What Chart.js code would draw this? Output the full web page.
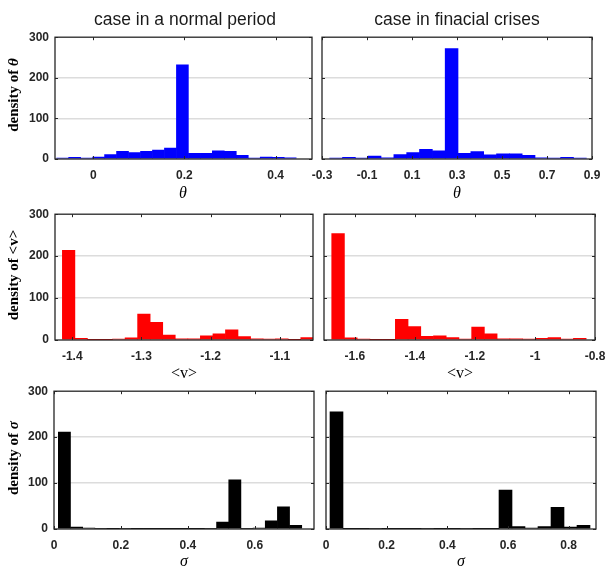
<!DOCTYPE html>
<html>
<head>
<meta charset="utf-8">
<script src="https://cdn.jsdelivr.net/npm/chart.js@4.4.0/dist/chart.umd.min.js"></script>
<style>
  body { margin: 0; background: #fff; }
  #fig { position: relative; width: 607px; height: 568px; overflow: hidden; background: #fff; }
  #fig canvas { position: absolute; }
  .t { position: absolute; white-space: nowrap; line-height: 1; color: #000; }
  .title { font: 17.5px "Liberation Sans", Arial, sans-serif; color: #1a1a1a; transform: translateX(-50%); }
  .xl { font: italic 16px "Liberation Serif", "Times New Roman", serif; transform: translateX(-50%); }
  .xl.up { font-style: normal; }
  .yl { font: bold 15px "Liberation Serif", "Times New Roman", serif; transform: translate(-50%, -50%) rotate(-90deg); }
</style>
</head>
<body>
<div id="fig">
  <canvas id="c1"></canvas><canvas id="c2"></canvas>
  <canvas id="c3"></canvas><canvas id="c4"></canvas>
  <canvas id="c5"></canvas><canvas id="c6"></canvas>

  <div class="t title" style="left:185px; top:9px">case in a normal period</div>
  <div class="t title" style="left:457px; top:9px">case in finacial crises</div>

  <div class="t yl" style="left:13px; top:95px">density of <i>θ</i></div>
  <div class="t yl" style="left:13px; top:275px">density of &lt;v&gt;</div>
  <div class="t yl" style="left:13px; top:458px">density of <i>σ</i></div>

  <div class="t xl" style="left:183px; top:184px">θ</div>
  <div class="t xl" style="left:457px; top:184px">θ</div>
  <div class="t xl up" style="left:184px; top:364px">&lt;v&gt;</div>
  <div class="t xl up" style="left:460px; top:364px">&lt;v&gt;</div>
  <div class="t xl" style="left:184px; top:552px">σ</div>
  <div class="t xl" style="left:461px; top:552px">σ</div>
</div>

<script>
// bin centres and densities

// theta, normal period
const thetaNormalBins = [-0.0672, -0.0409, -0.0146, 0.0117, 0.0379, 0.0642, 0.0905, 0.1168, 0.1430, 0.1693,
                         0.1956, 0.2219, 0.2481, 0.2744, 0.3007, 0.3270, 0.3532, 0.3795, 0.4058, 0.4321];
const thetaNormalDensity = [2, 4, 2, 5, 11, 19, 16, 19, 22, 27, 232, 14, 14, 20, 19, 9, 2, 5, 4, 3];
const thetaNormalTicks = [0, 0.2, 0.4];

// theta, crises
const thetaCrisisBins = [-0.2373, -0.1802, -0.1232, -0.0662, -0.0092, 0.0479, 0.1049, 0.1619, 0.2190, 0.2760,
                         0.3330, 0.3900, 0.4471, 0.5041, 0.5611, 0.6182, 0.6752, 0.7322, 0.7892, 0.8463];
const thetaCrisisDensity = [2, 4, 2, 7, 3, 11, 16, 24, 20, 272, 14, 18, 10, 13, 13, 9, 3, 2, 4, 2];
const thetaCrisisTicks = [-0.3, -0.1, 0.1, 0.3, 0.5, 0.7, 0.9];

// <v>, normal period
const vNormalBins = [-1.4053, -1.3872, -1.3690, -1.3509, -1.3327, -1.3146, -1.2965, -1.2783, -1.2602, -1.2420,
                     -1.2239, -1.2058, -1.1876, -1.1695, -1.1513, -1.1332, -1.1151, -1.0969, -1.0788, -1.0606];
const vNormalDensity = [214, 4, 1, 1, 2, 5, 62, 42, 12, 3, 3, 10, 15, 24, 8, 3, 2, 3, 1, 6];
const vNormalTicks = [-1.4, -1.3, -1.2, -1.1];

// <v>, crises
const vCrisisBins = [-1.6561, -1.6137, -1.5713, -1.5289, -1.4865, -1.4441, -1.4017, -1.3594, -1.3170, -1.2746,
                     -1.2322, -1.1898, -1.1474, -1.1050, -1.0626, -1.0202, -0.9778, -0.9355, -0.8931, -0.8507];
const vCrisisDensity = [254, 5, 2, 1, 1, 49, 32, 9, 10, 6, 2, 31, 15, 3, 3, 2, 4, 6, 2, 4];
const vCrisisTicks = [-1.6, -1.4, -1.2, -1, -0.8];

// sigma, normal period
const sigmaNormalBins = [0.0311, 0.0675, 0.1039, 0.1402, 0.1766, 0.2130, 0.2494, 0.2857, 0.3221, 0.3585,
                         0.3949, 0.4312, 0.4676, 0.5040, 0.5404, 0.5767, 0.6131, 0.6495, 0.6858, 0.7222];
const sigmaNormalDensity = [211, 4, 2, 1, 0.5, 1, 0.5, 0.3, 0.3, 0.3, 0.5, 0.5, 1, 15, 107, 1, 2, 18, 48, 8];
const sigmaNormalTicks = [0, 0.2, 0.4, 0.6];

// sigma, crises
const sigmaCrisisBins = [0.0346, 0.0775, 0.1203, 0.1632, 0.2060, 0.2489, 0.2917, 0.3346, 0.3774, 0.4203,
                         0.4631, 0.5060, 0.5488, 0.5917, 0.6345, 0.6774, 0.7202, 0.7631, 0.8059, 0.8488];
const sigmaCrisisDensity = [255, 0.5, 0.5, 1, 0.5, 0.3, 0.3, 1, 0.3, 0.3, 1, 0.3, 0.5, 85, 5, 2, 5, 47, 4, 8];
const sigmaCrisisTicks = [0, 0.2, 0.4, 0.6, 0.8];

const densityTicks = [0, 100, 200, 300];

const axisColor = '#262626';
const tickFont = { family: '"Liberation Sans", Arial, sans-serif', size: 12, weight: 'bold' };

// plot area of each panel in page pixels: [left, top, right, bottom]
const panels = [
  { id: 'c1', rect: [55, 32, 312, 159], bins: thetaNormalBins, density: thetaNormalDensity, color: '#0000ff', xMin: -0.084, xMax: 0.48, ticks: thetaNormalTicks, yLabels: true },
  { id: 'c2', rect: [322, 32, 592, 159], bins: thetaCrisisBins, density: thetaCrisisDensity, color: '#0000ff', xMin: -0.3, xMax: 0.9, ticks: thetaCrisisTicks, yLabels: false },
  { id: 'c3', rect: [55, 209, 313, 340], bins: vNormalBins, density: vNormalDensity, color: '#ff0000', xMin: -1.425, xMax: -1.052, ticks: vNormalTicks, yLabels: true },
  { id: 'c4', rect: [324, 209, 595, 340], bins: vCrisisBins, density: vCrisisDensity, color: '#ff0000', xMin: -1.703, xMax: -0.8, ticks: vCrisisTicks, yLabels: false },
  { id: 'c5', rect: [54, 386, 314, 529], bins: sigmaNormalBins, density: sigmaNormalDensity, color: '#000000', xMin: 0, xMax: 0.777, ticks: sigmaNormalTicks, yLabels: true },
  { id: 'c6', rect: [326, 386, 596, 529], bins: sigmaCrisisBins, density: sigmaCrisisDensity, color: '#000000', xMin: 0, xMax: 0.89, ticks: sigmaCrisisTicks, yLabels: false }
];

const LEFT = 52, TOP = 8, RIGHT = 25, BOTTOM = 30;

// matlab-style box with inward ticks, drawn over the bars
const boxPlugin = {
  id: 'box',
  afterDatasetsDraw(chart) {
    const { ctx, chartArea: a, scales } = chart;
    ctx.save();
    ctx.strokeStyle = axisColor;
    ctx.lineWidth = 1;
    ctx.beginPath();
    scales.x.ticks.forEach(t => {
      const px = Math.round(scales.x.getPixelForValue(t.value)) + 0.5;
      ctx.moveTo(px, a.bottom); ctx.lineTo(px, a.bottom - 3);
      ctx.moveTo(px, a.top); ctx.lineTo(px, a.top + 3);
    });
    scales.y.ticks.forEach(t => {
      const py = Math.round(scales.y.getPixelForValue(t.value)) + 0.5;
      ctx.moveTo(a.left, py); ctx.lineTo(a.left + 3, py);
      ctx.moveTo(a.right, py); ctx.lineTo(a.right - 3, py);
    });
    ctx.stroke();
    ctx.lineWidth = 1.3;
    ctx.strokeRect(a.left, a.top, a.right - a.left, a.bottom - a.top);
    ctx.restore();
  }
};

panels.forEach(p => {
  const [l, t, r, b] = p.rect;
  const canvas = document.getElementById(p.id);
  canvas.width = (r - l) + LEFT + RIGHT;
  canvas.height = (b - t) + TOP + BOTTOM;
  canvas.style.left = (l - LEFT) + 'px';
  canvas.style.top = (t - TOP) + 'px';

  new Chart(canvas.getContext('2d'), {
    type: 'bar',
    data: {
      datasets: [{
        data: p.bins.map((x, i) => ({ x: x, y: p.density[i] })),
        backgroundColor: p.color,
        borderWidth: 0,
        barPercentage: 1,
        categoryPercentage: 1
      }]
    },
    options: {
      responsive: false,
      animation: false,
      layout: { padding: { left: 0, top: TOP, right: RIGHT, bottom: 0 } },
      plugins: { legend: { display: false }, tooltip: { enabled: false } },
      scales: {
        x: {
          type: 'linear',
          min: p.xMin,
          max: p.xMax,
          offset: false,
          grid: { display: false, drawTicks: false, offset: false },
          border: { display: false },
          afterBuildTicks: s => { s.ticks = p.ticks.map(v => ({ value: v })); },
          afterFit: s => { s.height = BOTTOM; },
          ticks: {
            autoSkip: false, maxRotation: 0, padding: 9,
            color: axisColor, font: tickFont,
            callback: v => String(v)
          }
        },
        y: {
          min: 0,
          max: 300,
          grid: {
            drawTicks: false,
            lineWidth: 1.5,
            color: c => (c.tick && (c.tick.value === 100 || c.tick.value === 200)) ? '#dcdcdc' : 'rgba(0,0,0,0)'
          },
          border: { display: false },
          afterBuildTicks: s => { s.ticks = densityTicks.map(v => ({ value: v })); },
          afterFit: s => { s.width = LEFT; },
          ticks: {
            padding: 6, color: axisColor, font: tickFont,
            callback: v => p.yLabels ? String(v) : ''
          }
        }
      }
    },
    plugins: [boxPlugin]
  });
});
</script>
</body>
</html>
